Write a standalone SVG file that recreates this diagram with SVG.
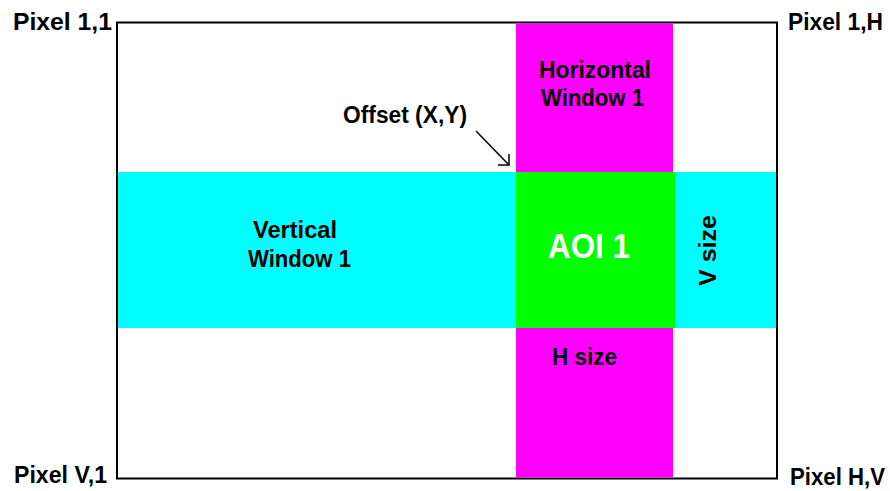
<svg xmlns="http://www.w3.org/2000/svg" width="890" height="491" viewBox="0 0 890 491">
<style>
  text { font-family: "Liberation Sans", Arial, sans-serif; font-weight: bold; fill: #000; }
  .lbl { font-size: 23px; }
  .aoi { font-size: 35px; fill: #fff; }
</style>
<rect width="890" height="491" fill="#fff"/>
<g id="frame">
  <rect x="117" y="22.5" width="660" height="456" fill="#fff" stroke="#000" stroke-width="2"/>
</g>
<g id="horizontal-window">
  <rect x="516" y="23.5" width="157" height="454" fill="#ff00ff"/>
  <text class="lbl" x="595" y="78" text-anchor="middle" textLength="112" lengthAdjust="spacingAndGlyphs">Horizontal</text>
  <text class="lbl" x="592.5" y="106" text-anchor="middle" textLength="103" lengthAdjust="spacingAndGlyphs">Window 1</text>
</g>
<g id="vertical-window">
  <rect x="118" y="172" width="658" height="156" fill="#00ffff"/>
  <text class="lbl" x="295" y="238" text-anchor="middle" textLength="84" lengthAdjust="spacingAndGlyphs">Vertical</text>
  <text class="lbl" x="299.5" y="267" text-anchor="middle" textLength="103" lengthAdjust="spacingAndGlyphs">Window 1</text>
</g>
<g id="aoi">
  <rect x="516" y="172" width="159" height="156" fill="#00ff00"/>
  <text class="aoi" x="589" y="258" text-anchor="middle" textLength="82" lengthAdjust="spacingAndGlyphs">AOI 1</text>
</g>
<g id="labels">
  <text class="lbl" x="13" y="30" textLength="99" lengthAdjust="spacingAndGlyphs">Pixel 1,1</text>
  <text class="lbl" x="788" y="30" textLength="95" lengthAdjust="spacingAndGlyphs">Pixel 1,H</text>
  <text class="lbl" x="14" y="483" textLength="93" lengthAdjust="spacingAndGlyphs">Pixel V,1</text>
  <text class="lbl" x="790" y="485" textLength="95" lengthAdjust="spacingAndGlyphs">Pixel H,V</text>
  <text class="lbl" x="343" y="123" textLength="124" lengthAdjust="spacingAndGlyphs">Offset (X,Y)</text>
  <text class="lbl" x="552" y="365" textLength="65" lengthAdjust="spacingAndGlyphs">H size</text>
  <text class="lbl" transform="translate(716 250.5) rotate(-90)" x="0" y="0" text-anchor="middle" textLength="71" lengthAdjust="spacingAndGlyphs">V size</text>
</g>
<g id="connectors" fill="none" stroke="#000" stroke-width="1.5">
  <line x1="476" y1="131" x2="509" y2="165"/>
  <polyline points="498,165 509,165 509,154"/>
</g>
</svg>
